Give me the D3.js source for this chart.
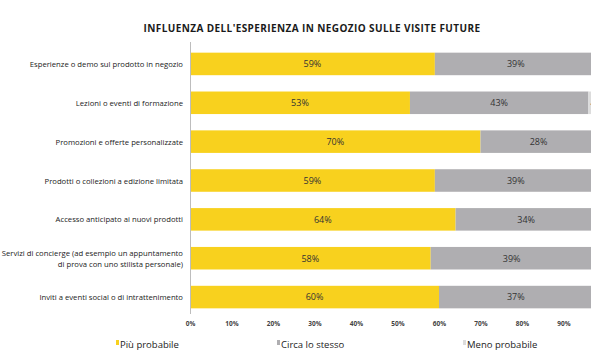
<!DOCTYPE html>
<html><head><meta charset="utf-8">
<script src="https://cdn.jsdelivr.net/npm/d3@7"></script>
<style>body{margin:0;background:#fff}svg{display:block}</style>
</head><body>
<script>
const categories = [
  "Esperienze o demo sul prodotto in negozio",
  "Lezioni o eventi di formazione",
  "Promozioni e offerte personalizzate",
  "Prodotti o collezioni a edizione limitata",
  "Accesso anticipato ai nuovi prodotti",
  "Servizi di concierge (ad esempio un appuntamento|di prova con uno stilista personale)",
  "Inviti a eventi social o di intrattenimento"
];
const piuProbabile = [59, 53, 70, 59, 64, 58, 60];
const circaStesso = [39, 43, 28, 39, 34, 39, 37];
const menoProbabile = [2, 4, 2, 2, 2, 3, 3];
const seriesNames = ["Più probabile", "Circa lo stesso", "Meno probabile"];
const colors = ["#F8D11E", "#AFAEB1", "#DCDCDC"];
const ticks = [0,10,20,30,40,50,60,70,80,90];

const W = 600, H = 360;
const svg = d3.select("body").append("svg").attr("width", W).attr("height", H);
const FF = "'Open Sans', sans-serif";
const clipX = 591;

svg.append("text").attr("x", 312).attr("y", 32).attr("text-anchor","middle")
  .attr("font-family",FF).attr("font-weight","bold")
  .attr("font-size", 10).attr("letter-spacing", 0.4).attr("fill","#1a1a1a")
  .text("INFLUENZA DELL'ESPERIENZA IN NEGOZIO SULLE VISITE FUTURE");

const x = d3.scaleLinear().domain([0,100]).range([190, 605]);
const y = d3.scaleBand().domain(categories).range([44.5, 316.5]).paddingInner(0.42).paddingOuter(0.21);

const data = categories.map((c,i)=>({cat:c, vals:[piuProbabile[i], circaStesso[i], menoProbabile[i]]}));

svg.append("clipPath").attr("id","clip").append("rect").attr("x",0).attr("y",0).attr("width",clipX).attr("height",H);
const g = svg.append("g").attr("clip-path","url(#clip)");

data.forEach(d=>{
  let acc = 0;
  d.vals.forEach((v,j)=>{
    const x0 = x(acc), x1 = x(acc+v);
    g.append("rect").attr("x", x0).attr("y", y(d.cat)).attr("width", x1-x0).attr("height", y.bandwidth()).attr("fill", colors[j]);
    // only labels whose start lies inside the visible area (as in the cropped reference)
    if ((x0+x1)/2 - 6 < clipX) {
      g.append("text").attr("x", (x0+x1)/2).attr("y", y(d.cat)+y.bandwidth()/2+3.3)
        .attr("text-anchor","middle").attr("font-family",FF).attr("font-size",9)
        .attr("fill","#333").text(v+"%");
    }
    acc += v;
  });
});

// axis line
svg.append("line").attr("x1",190.5).attr("x2",190.5).attr("y1",42).attr("y2",314).attr("stroke","#bdbdbd").attr("stroke-width",1);

// category labels
data.forEach(d=>{
  const lines = d.cat.split("|");
  const cy = y(d.cat)+y.bandwidth()/2;
  const t = svg.append("text").attr("text-anchor","end").attr("font-family",FF)
    .attr("font-size",7.7).attr("fill","#222");
  lines.forEach((l,k)=>{
    t.append("tspan").attr("x",183).attr("y", cy + 3 + (k - (lines.length-1)/2)*11).text(l);
  });
});

// x ticks
const xAxis = d3.axisBottom(x).tickValues(ticks).tickFormat(d=>d+"%").tickSize(0);
const ax = svg.append("g").attr("transform","translate(0,318)").call(xAxis);
ax.select(".domain").remove();
ax.selectAll("text").attr("font-family",FF).attr("font-size",6.5).attr("font-weight","bold").attr("fill","#444");

// legend
const legX = [116, 277, 463];
seriesNames.forEach((n,i)=>{
  svg.append("rect").attr("x",legX[i]).attr("y",340).attr("width",3).attr("height",5).attr("fill",colors[i]);
  svg.append("text").attr("x",legX[i]+4).attr("y",348).attr("font-family",FF)
    .attr("font-size",9.5).attr("fill","#222").text(n);
});
</script>
</body></html>
